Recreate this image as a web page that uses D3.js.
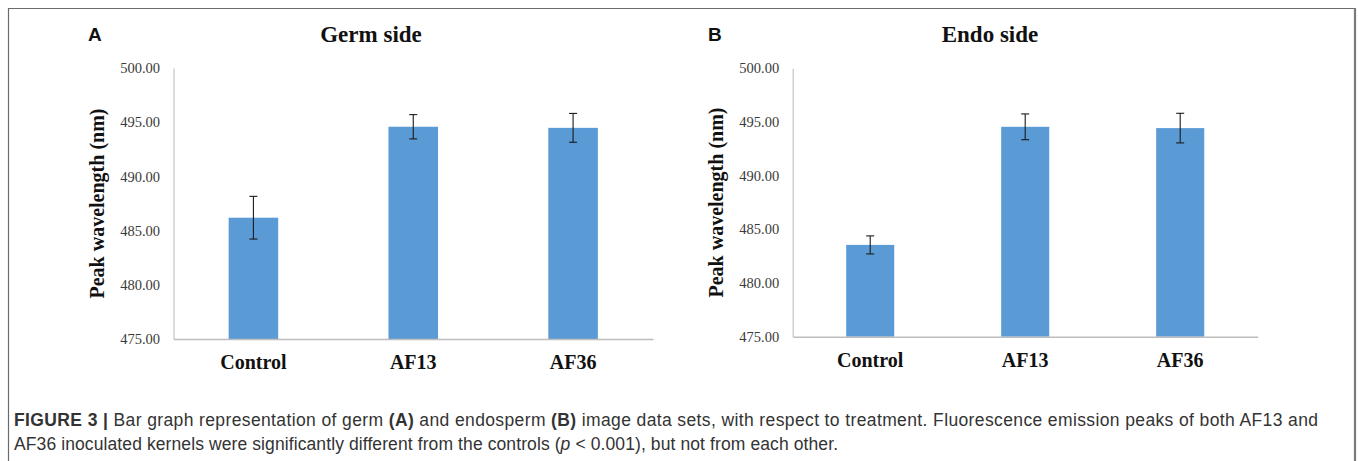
<!DOCTYPE html>
<html>
<head>
<meta charset="utf-8">
<script src="https://cdn.jsdelivr.net/npm/d3@7"></script>
<style>
  html, body { margin: 0; padding: 0; background: #fff; }
  svg { display: block; }
</style>
</head>
<body>
<svg id="fig" width="1358" height="461"></svg>
<script>
// Treatments shown on both panels
const categories = ["Control", "AF13", "AF36"];

// Germ side: mean peak wavelength (nm) and error
const germMeans = [486.19, 494.58, 494.48];
const germErrors = [1.97, 1.12, 1.33];

// Endosperm side: mean peak wavelength (nm) and error
const endoMeans = [483.55, 494.55, 494.43];
const endoErrors = [0.84, 1.2, 1.38];

// Shared y axis
const yDomain = [475, 500];
const yTicks = [475, 480, 485, 490, 495, 500];

const panels = [
  { letter: "A", title: "Germ side", means: germMeans, errors: germErrors,
    x0: 173.5, x1: 653, yTop: 68, yBottom: 339,
    letterX: 88, titleX: 371 },
  { letter: "B", title: "Endo side", means: endoMeans, errors: endoErrors,
    x0: 792.7, x1: 1257.7, yTop: 68.3, yBottom: 336.7,
    letterX: 708, titleX: 990 }
];

const svg = d3.select("#fig");
const serif = "'Liberation Serif', 'Times New Roman', Times, serif";
const sans = "'Liberation Sans', Arial, Helvetica, sans-serif";

// Figure frame
const frame = svg.append("g");
frame.append("line").attr("x1", 8).attr("x2", 1356).attr("y1", 8.5).attr("y2", 8.5)
  .attr("stroke", "#6b6b6b").attr("stroke-width", 1.2);
frame.append("line").attr("x1", 8.5).attr("x2", 8.5).attr("y1", 8).attr("y2", 461)
  .attr("stroke", "#6b6b6b").attr("stroke-width", 1.2);
frame.append("line").attr("x1", 1355).attr("x2", 1355).attr("y1", 8).attr("y2", 461)
  .attr("stroke", "#7a7a7a").attr("stroke-width", 2.2);

panels.forEach(p => {
  const g = svg.append("g");

  const x = d3.scaleBand()
    .domain(categories)
    .range([p.x0, p.x1])
    .paddingInner(0.69)
    .paddingOuter(0.345);

  const y = d3.scaleLinear()
    .domain(yDomain)
    .range([p.yBottom, p.yTop]);

  // y axis: labels only, light spine
  const yAxis = g.append("g")
    .attr("transform", `translate(${p.x0},0)`)
    .call(d3.axisLeft(y).tickValues(yTicks).tickFormat(d3.format(".2f")).tickSize(0).tickPadding(13.5));
  yAxis.select(".domain").attr("stroke", "#c4c4c4").attr("stroke-width", 1.2);
  yAxis.selectAll("text")
    .attr("font-family", serif).attr("font-size", 14.5).attr("fill", "#3a3a3a");

  // bars
  g.selectAll("rect.bar")
    .data(categories)
    .join("rect")
    .attr("class", "bar")
    .attr("x", d => x(d))
    .attr("width", x.bandwidth())
    .attr("y", (d, i) => y(p.means[i]))
    .attr("height", (d, i) => y(yDomain[0]) - y(p.means[i]))
    .attr("fill", "#5b9bd5");

  // x axis baseline and category labels
  const xAxis = g.append("g")
    .attr("transform", `translate(0,${p.yBottom})`)
    .call(d3.axisBottom(x).tickSize(0).tickPadding(16));
  xAxis.select(".domain").attr("stroke", "#bdbdbd").attr("stroke-width", 1.4);
  xAxis.selectAll("text")
    .attr("font-family", serif).attr("font-size", 20).attr("font-weight", "bold")
    .attr("fill", "#111");

  // error bars
  const cap = 4;
  const eb = g.selectAll("g.err")
    .data(categories)
    .join("g")
    .attr("class", "err")
    .attr("stroke", "#1a1a1a")
    .attr("stroke-width", 1.1);
  eb.append("line")
    .attr("x1", d => x(d) + x.bandwidth() / 2).attr("x2", d => x(d) + x.bandwidth() / 2)
    .attr("y1", (d, i) => y(p.means[i] + p.errors[i]))
    .attr("y2", (d, i) => y(p.means[i] - p.errors[i]));
  eb.append("line")
    .attr("x1", d => x(d) + x.bandwidth() / 2 - cap).attr("x2", d => x(d) + x.bandwidth() / 2 + cap)
    .attr("y1", (d, i) => y(p.means[i] + p.errors[i]))
    .attr("y2", (d, i) => y(p.means[i] + p.errors[i]));
  eb.append("line")
    .attr("x1", d => x(d) + x.bandwidth() / 2 - cap).attr("x2", d => x(d) + x.bandwidth() / 2 + cap)
    .attr("y1", (d, i) => y(p.means[i] - p.errors[i]))
    .attr("y2", (d, i) => y(p.means[i] - p.errors[i]));

  // y axis title
  g.append("text")
    .attr("transform", `translate(${p.x0 - 70},${(p.yTop + p.yBottom) / 2}) rotate(-90)`)
    .attr("text-anchor", "middle")
    .attr("font-family", serif).attr("font-size", 20).attr("font-weight", "bold")
    .attr("fill", "#111")
    .text("Peak wavelength (nm)");

  // panel title and letter
  g.append("text")
    .attr("x", p.titleX).attr("y", 42)
    .attr("text-anchor", "middle")
    .attr("font-family", serif).attr("font-size", 23).attr("font-weight", "bold")
    .attr("fill", "#111")
    .text(p.title);
  g.append("text")
    .attr("x", p.letterX).attr("y", 41)
    .attr("font-family", sans).attr("font-size", 19).attr("font-weight", "bold")
    .attr("fill", "#111")
    .text(p.letter);
});

// Caption
const cap1 = svg.append("text")
  .attr("x", 14).attr("y", 426)
  .attr("textLength", 1304).attr("lengthAdjust", "spacing")
  .attr("font-family", sans).attr("font-size", 17.5).attr("fill", "#333");
cap1.append("tspan").attr("font-weight", "bold").text("FIGURE 3 | ");
cap1.append("tspan").text("Bar graph representation of germ ");
cap1.append("tspan").attr("font-weight", "bold").text("(A)");
cap1.append("tspan").text(" and endosperm ");
cap1.append("tspan").attr("font-weight", "bold").text("(B)");
cap1.append("tspan").text(" image data sets, with respect to treatment. Fluorescence emission peaks of both AF13 and");

const cap2 = svg.append("text")
  .attr("x", 14).attr("y", 450)
  .attr("textLength", 824).attr("lengthAdjust", "spacing")
  .attr("font-family", sans).attr("font-size", 17.5).attr("fill", "#333");
cap2.append("tspan").text("AF36 inoculated kernels were significantly different from the controls (");
cap2.append("tspan").attr("font-style", "italic").text("p");
cap2.append("tspan").text(" < 0.001), but not from each other.");
</script>
</body>
</html>
